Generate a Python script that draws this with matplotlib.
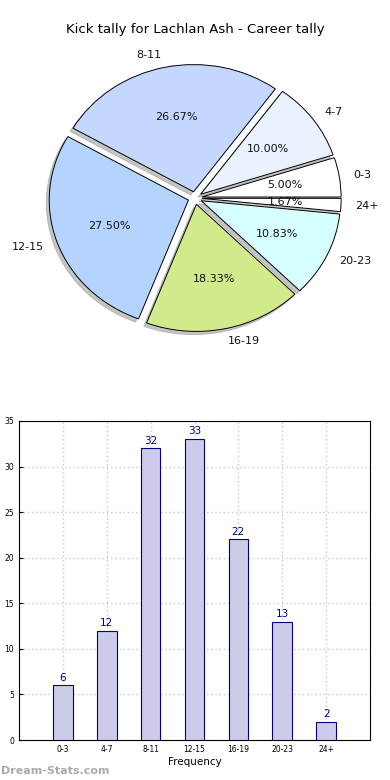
import matplotlib
matplotlib.use("Agg")
import matplotlib.pyplot as plt
from matplotlib.patches import Shadow

categories = ["0-3", "4-7", "8-11", "12-15", "16-19", "20-23", "24+"]
counts = [6, 12, 32, 33, 22, 13, 2]
pie_colors = ["#ffffff", "#eaf1ff", "#c4d8ff", "#b4d4ff", "#d0ea8c", "#d8ffff", "#ffffff"]
title = "Kick tally for Lachlan Ash - Career tally"

fig = plt.figure(figsize=(3.9, 7.8), dpi=100)

# Pie chart
ax1 = fig.add_axes([21/390, 423/780, 348/390, 318/780])
wedges, texts, autotexts = ax1.pie(
    counts, labels=categories, colors=pie_colors, explode=[0.05]*len(counts),
    autopct="%1.2f%%", startangle=0,
    shadow={"ox": -0.015, "oy": -0.018, "shade": 0.45},
    labeldistance=1.1, pctdistance=0.6,
    wedgeprops=dict(edgecolor="black", linewidth=0.7),
    textprops=dict(fontsize=8, color="#111111"))
for p in ax1.patches:
    if isinstance(p, Shadow):
        p.set_facecolor("#8c8c8c")
        p.set_edgecolor("#8c8c8c")
ax1.set_aspect("auto")
ax1.set_xlim(-1.25, 1.25)
ax1.set_ylim(-1.25, 1.25)
fig.text(0.5, 1 - 30/780, title, ha="center", va="center", fontsize=9.5)

# Bar chart
ax2 = fig.add_axes([19/390, 40/780, 351/390, 319/780])
x = list(range(len(categories)))
bars = ax2.bar(x, counts, width=0.45, color="#ccccea", edgecolor="#000080", linewidth=0.8, zorder=3)
for xi, c in zip(x, counts):
    ax2.text(xi, c + 0.3, str(c), ha="center", va="bottom", fontsize=7.5, color="#000080", zorder=4)
ax2.set_xlim(-1, 7)
ax2.set_ylim(0, 35)
ax2.set_xticks(x)
ax2.set_xticklabels(categories, fontsize=5.5)
ax2.set_yticks(range(0, 36, 5))
ax2.tick_params(axis="y", labelsize=5.5, direction="in", length=3)
ax2.tick_params(axis="x", direction="in", length=3)
ax2.grid(True, linestyle=(0, (1, 2)), color="#c8c8c8", linewidth=1.0, zorder=0)
ax2.set_axisbelow(True)
ax2.set_xlabel("Frequency", fontsize=7.5, labelpad=2)
ax2.set_ylabel("Games with Tally", fontsize=7.5, labelpad=8)

fig.text(0.5/390, 1 - 771/780, "Dream-Stats.com", ha="left", va="center", fontsize=8,
         color="#aaaaaa", fontweight="bold")

fig.savefig("out.png", dpi=100)
